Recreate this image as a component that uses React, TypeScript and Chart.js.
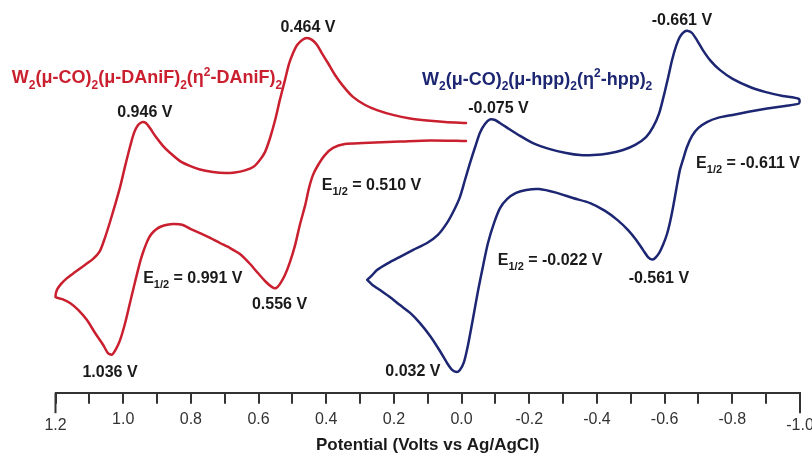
import React, { useEffect, useRef } from 'react';
import { Chart, registerables } from 'chart.js';

Chart.register(...registerables);

const FONT = '"Liberation Sans", Arial, Helvetica, sans-serif';
const RED = '#c91f2e';
const BLUE = '#1d2672';
const INK = '#1a1a1a';
const AXIS = '#333333';

// x axis (potential, V) – reversed, 1.2 on the left
const X_MIN = -1.0;
const X_MAX = 1.2;
const X_STEP = 0.1;
const X_TITLE = 'Potential (Volts vs Ag/AgCl)';
const X_TICK_LABELS = ['1.2', '1.0', '0.8', '0.6', '0.4', '0.2', '0.0', '-0.2', '-0.4', '-0.6', '-0.8', '-1.0'];
const X_END_LABELS = ['1.2', '-1.0'];

// hidden current axis (arbitrary units)
const Y_MIN = -30;
const Y_MAX = 100;

// W2(μ-CO)2(μ-DAniF)2(η2-DAniF)2  – potential (V)
const RED_V = [
  -0.013, 0.093, 0.182, 0.291, 0.345, 0.380, 0.404, 0.424, 0.439, 0.451,
  0.462, 0.478, 0.492, 0.507, 0.522, 0.537, 0.548, 0.560, 0.578, 0.602,
  0.625, 0.655, 0.684, 0.714, 0.743, 0.773, 0.803, 0.826, 0.850, 0.870,
  0.888, 0.903, 0.915, 0.924, 0.932, 0.941, 0.950, 0.965, 0.980, 0.995,
  1.009, 1.021, 1.033,
  1.045, 1.059, 1.083, 1.107, 1.133, 1.157, 1.180, 1.200,
  1.196, 1.184, 1.166, 1.142, 1.113, 1.089, 1.069, 1.054, 1.039, 1.024,
  1.009, 0.995, 0.980, 0.968, 0.956, 0.944, 0.933, 0.921, 0.903, 0.882,
  0.861, 0.832, 0.803, 0.773, 0.735, 0.699, 0.670, 0.640, 0.616, 0.596,
  0.581, 0.566, 0.551, 0.537, 0.522, 0.510, 0.498, 0.486, 0.471, 0.457,
  0.442, 0.427, 0.413, 0.395, 0.374, 0.350, 0.321, 0.285, 0.250, 0.203,
  0.152, 0.102, 0.049, -0.013,
];
// current (a.u.)
const RED_I = [
  53.9, 54.1, 53.7, 53.2, 52.9, 51.6, 49.2, 45.9, 42.6, 38.2,
  32.6, 25.9, 19.2, 13.6, 9.2, 6.2, 4.9, 5.2, 6.9, 9.9,
  12.9, 16.2, 18.2, 19.9, 21.6, 23.2, 24.7, 26.0, 26.2, 26.0,
  25.4, 24.4, 23.1, 21.6, 19.6, 16.9, 13.6, 6.9, -0.1, -7.1,
  -12.4, -15.4, -17.3,
  -16.8, -14.1, -10.1, -5.8, -2.4, -0.1, 1.2, 1.9,
  4.2, 6.2, 8.2, 10.2, 12.6, 14.6, 17.2, 21.6, 26.9, 32.6,
  38.6, 45.2, 51.9, 56.6, 59.2, 60.2, 59.9, 58.2, 55.2, 52.2,
  49.9, 47.2, 45.6, 44.4, 43.6, 43.2, 43.4, 44.1, 45.2, 47.6,
  50.2, 54.9, 60.9, 67.6, 74.2, 79.6, 83.2, 85.9, 87.6, 88.2,
  87.6, 85.9, 83.2, 79.9, 75.9, 72.2, 68.6, 65.9, 64.2, 62.6,
  61.4, 60.7, 60.2, 59.9,
];

// W2(μ-CO)2(μ-hpp)2(η2-hpp)2  – potential (V)
const BLUE_V = [
  0.279, 0.265, 0.250, 0.217, 0.182, 0.143, 0.102, 0.070, 0.043, 0.022,
  0.005, -0.010, -0.025, -0.040, -0.054, -0.069, -0.084, -0.099, -0.113, -0.131,
  -0.173, -0.211, -0.261, -0.309, -0.350, -0.389, -0.433, -0.477, -0.513, -0.545,
  -0.566, -0.584, -0.598, -0.610, -0.622, -0.634, -0.645, -0.657, -0.669, -0.681,
  -0.695, -0.713, -0.736, -0.763, -0.801, -0.852, -0.899, -0.949, -0.997,
  -0.997, -0.956, -0.903, -0.852, -0.801, -0.757, -0.725, -0.699, -0.681, -0.666,
  -0.654, -0.645, -0.634, -0.625, -0.616, -0.607, -0.595, -0.584, -0.572, -0.563,
  -0.551, -0.536, -0.516, -0.492, -0.460, -0.424, -0.380, -0.329, -0.279, -0.229,
  -0.191, -0.161, -0.135, -0.114, -0.096, -0.078, -0.064, -0.049, -0.034, -0.019,
  -0.007, 0.005, 0.015, 0.028, 0.043, 0.064, 0.093, 0.123, 0.152, 0.182,
  0.212, 0.241, 0.265, 0.279,
];
// current (a.u.)
const BLUE_I = [
  7.6, 9.1, 10.9, 13.2, 15.3, 17.6, 19.9, 22.6, 26.6, 30.9,
  35.2, 40.9, 46.6, 51.9, 56.6, 59.6, 61.1, 60.9, 59.9, 58.6,
  55.6, 53.2, 51.2, 49.9, 49.2, 49.2, 49.7, 50.9, 52.6, 55.2,
  58.6, 63.2, 69.2, 74.9, 80.9, 85.6, 88.6, 90.2, 90.6, 89.9,
  87.6, 84.2, 80.6, 77.6, 74.6, 71.9, 70.2, 68.9, 67.9,
  66.4, 65.6, 64.7, 63.7, 62.6, 61.6, 60.2, 58.2, 55.6, 51.9,
  47.6, 44.2, 37.6, 31.9, 26.9, 22.9, 19.2, 16.6, 14.9, 14.4,
  15.2, 17.6, 20.9, 24.2, 27.6, 30.6, 33.2, 34.9, 36.7, 37.9,
  37.6, 36.6, 34.6, 31.6, 26.6, 19.9, 12.6, 4.2, -5.1, -14.1,
  -19.8, -22.4, -23.1, -22.4, -20.1, -16.1, -11.1, -6.8, -3.4, -0.8,
  1.9, 4.2, 6.1, 7.6,
];

// text annotations, anchored in data units (V, a.u.)
const ANNOTATIONS = [
  { text: 'W_{2}(μ-CO)_{2}(μ-DAniF)_{2}(η^{2}-DAniF)_{2}', v: 1.329, i: 73.1, align: 'left', color: RED, size: 18 },
  { text: 'W_{2}(μ-CO)_{2}(μ-hpp)_{2}(η^{2}-hpp)_{2}', v: 0.117, i: 72.6, align: 'left', color: BLUE, size: 18 },
  { text: '0.464 V', v: 0.454, i: 90.3, align: 'center', color: INK, size: 16 },
  { text: '0.946 V', v: 0.936, i: 61.8, align: 'center', color: INK, size: 16 },
  { text: '1.036 V', v: 1.039, i: -24.7, align: 'center', color: INK, size: 16 },
  { text: '0.556 V', v: 0.538, i: -2.2, align: 'center', color: INK, size: 16 },
  { text: 'E_{1/2} = 0.991 V', v: 0.941, i: 6.5, align: 'left', color: INK, size: 16 },
  { text: 'E_{1/2} = 0.510 V', v: 0.413, i: 37.6, align: 'left', color: INK, size: 16 },
  { text: '-0.661 V', v: -0.651, i: 92.6, align: 'center', color: INK, size: 16 },
  { text: '-0.075 V', v: -0.109, i: 63.1, align: 'center', color: INK, size: 16 },
  { text: 'E_{1/2} = -0.611 V', v: -0.693, i: 44.8, align: 'left', color: INK, size: 16 },
  { text: 'E_{1/2} = -0.022 V', v: -0.107, i: 12.6, align: 'left', color: INK, size: 16 },
  { text: '-0.561 V', v: -0.583, i: 6.7, align: 'center', color: INK, size: 16 },
  { text: '0.032 V', v: 0.144, i: -24.4, align: 'center', color: INK, size: 16 },
];

type Seg = { t: string; k: 'n' | 'sub' | 'sup' };

function parseRich(s: string): Seg[] {
  const out: Seg[] = [];
  const re = /(_\{[^}]*\}|\^\{[^}]*\})/g;
  let last = 0;
  let m: RegExpExecArray | null;
  while ((m = re.exec(s)) !== null) {
    if (m.index > last) out.push({ t: s.slice(last, m.index), k: 'n' });
    const tok = m[0];
    out.push({ t: tok.slice(2, -1), k: tok[0] === '_' ? 'sub' : 'sup' });
    last = m.index + tok.length;
  }
  if (last < s.length) out.push({ t: s.slice(last), k: 'n' });
  return out;
}

function drawRich(ctx: CanvasRenderingContext2D, text: string, x: number, y: number, align: string, color: string, size: number) {
  const small = Math.round(size * 0.68);
  const segs = parseRich(text).map((p) => {
    const s = p.k === 'n' ? size : small;
    ctx.font = `bold ${s}px ${FONT}`;
    return { ...p, s, w: ctx.measureText(p.t).width };
  });
  const total = segs.reduce((a, b) => a + b.w, 0);
  let cx = align === 'center' ? x - total / 2 : x;
  ctx.fillStyle = color;
  ctx.textBaseline = 'alphabetic';
  ctx.textAlign = 'left';
  for (const seg of segs) {
    ctx.font = `bold ${seg.s}px ${FONT}`;
    const dy = seg.k === 'sub' ? size * 0.3 : seg.k === 'sup' ? -size * 0.42 : 0;
    ctx.fillText(seg.t, cx, y + dy);
    cx += seg.w;
  }
}

const annotationPlugin = {
  id: 'cvAnnotations',
  afterDatasetsDraw(chart: any) {
    const { ctx, scales } = chart;
    ctx.save();
    for (const a of ANNOTATIONS) {
      const px = scales.x.getPixelForValue(a.v);
      const py = scales.y.getPixelForValue(a.i);
      drawRich(ctx, a.text, px, py, a.align, a.color, a.size);
    }
    ctx.restore();
  },
};

const endTickPlugin = {
  id: 'endTicks',
  afterDraw(chart: any) {
    const { ctx } = chart;
    const xs = chart.scales.x;
    ctx.save();
    ctx.strokeStyle = AXIS;
    ctx.lineWidth = 2;
    for (const v of [X_MIN, X_MAX]) {
      const px = xs.getPixelForValue(v);
      ctx.beginPath();
      ctx.moveTo(px, xs.top);
      ctx.lineTo(px, xs.top + 20.5);
      ctx.stroke();
    }
    ctx.restore();
  },
};

function tickKey(value: number): string {
  return (Math.round(value * 10) / 10).toFixed(1);
}

export default function App() {
  const ref = useRef<HTMLCanvasElement | null>(null);

  useEffect(() => {
    if (!ref.current) return;
    const red = RED_V.map((v, k) => ({ x: v, y: RED_I[k] }));
    const blue = BLUE_V.map((v, k) => ({ x: v, y: BLUE_I[k] }));

    const chart = new Chart(ref.current, {
      type: 'scatter',
      data: {
        datasets: [
          {
            label: 'W2(μ-CO)2(μ-DAniF)2(η2-DAniF)2',
            data: red,
            showLine: true,
            borderColor: RED,
            backgroundColor: RED,
            borderWidth: 2.5,
            pointRadius: 0,
            tension: 0.25,
            fill: false,
            clip: false as any,
            borderJoinStyle: 'round',
            borderCapStyle: 'round',
          },
          {
            label: 'W2(μ-CO)2(μ-hpp)2(η2-hpp)2',
            data: blue,
            showLine: true,
            borderColor: BLUE,
            backgroundColor: BLUE,
            borderWidth: 2.5,
            pointRadius: 0,
            tension: 0.25,
            fill: false,
            clip: false as any,
            borderJoinStyle: 'round',
            borderCapStyle: 'round',
          },
        ],
      },
      options: {
        responsive: false,
        animation: false,
        devicePixelRatio: 1,
        layout: { padding: { left: 55.5, right: 12, top: 2.7, bottom: 0 } },
        plugins: {
          legend: { display: false },
          tooltip: { enabled: false },
          title: { display: false },
        },
        scales: {
          x: {
            type: 'linear',
            reverse: true,
            min: X_MIN,
            max: X_MAX,
            afterFit(scale: any) {
              scale.paddingLeft = 0;
              scale.paddingRight = 0;
              scale.height = 65.3;
            },
            border: { display: true, color: AXIS, width: 2 },
            grid: {
              display: true,
              drawOnChartArea: false,
              drawTicks: true,
              tickLength: 11,
              color: AXIS,
              lineWidth: 2,
            },
            ticks: {
              stepSize: X_STEP,
              autoSkip: false,
              maxRotation: 0,
              minRotation: 0,
              padding: 6.3,
              color: AXIS,
              font: (c: any) => {
                const key = tickKey(c.tick ? c.tick.value : 0);
                return {
                  family: FONT,
                  size: 16,
                  lineHeight: X_END_LABELS.includes(key) ? '10.7px' : 1.2,
                } as any;
              },
              callback: (value: any) => {
                const key = tickKey(Number(value));
                if (!X_TICK_LABELS.includes(key)) return '';
                if (X_END_LABELS.includes(key)) return ['', key];
                return key;
              },
            },
            title: {
              display: true,
              text: X_TITLE,
              color: INK,
              font: { family: FONT, size: 17, weight: 'bold', lineHeight: 1.2 },
              padding: { top: 0, bottom: 2 },
            },
          },
          y: {
            type: 'linear',
            display: false,
            min: Y_MIN,
            max: Y_MAX,
          },
        },
      } as any,
      plugins: [annotationPlugin, endTickPlugin],
    });

    return () => chart.destroy();
  }, []);

  return (
    <div style={{ position: 'fixed', left: 0, top: 0, width: 812, height: 458, background: '#fff' }}>
      <canvas ref={ref} width={812} height={458} style={{ display: 'block' }} />
    </div>
  );
}
